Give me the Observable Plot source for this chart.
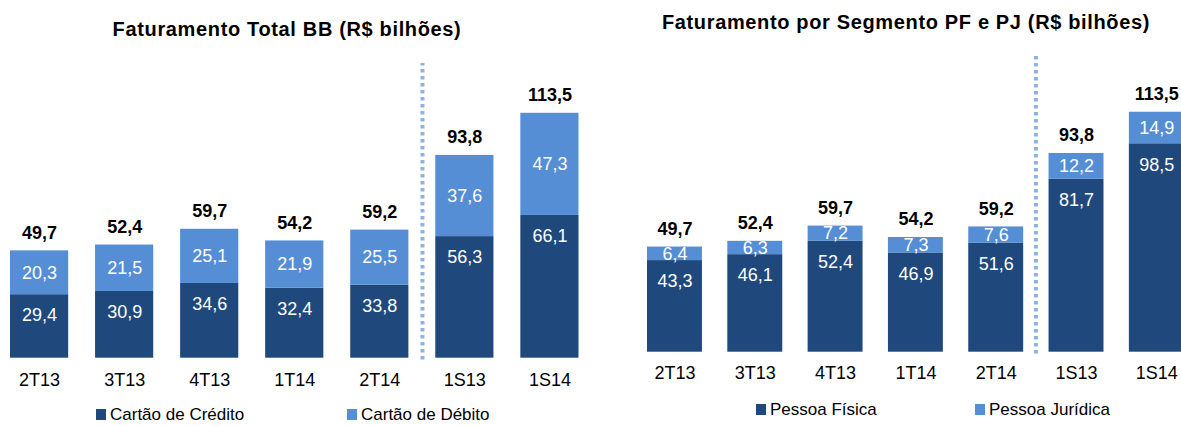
<!DOCTYPE html>
<html><head><meta charset="utf-8">
<script src="https://cdn.jsdelivr.net/npm/d3@7"></script>
<script src="https://cdn.jsdelivr.net/npm/@observablehq/plot@0.6"></script>
<style>
html,body{margin:0;padding:0;background:#fff;}
body{width:1181px;height:426px;overflow:hidden;position:relative;font-family:"Liberation Sans",Arial,sans-serif;color:#000;}
.title{position:absolute;font-weight:bold;font-size:20px;line-height:20px;letter-spacing:0.65px;white-space:nowrap;transform:translateX(-50%);}
.chart{position:absolute;top:40px;width:590px;height:360px;}
.chart svg{max-width:none !important;}
.legend{position:absolute;font-size:17px;line-height:17px;white-space:nowrap;display:flex;align-items:center;}
.legend .sw{display:inline-block;width:10px;height:11px;margin-right:4px;}
</style>
</head><body>
<div class="title" style="left:287px;top:19px;">Faturamento Total BB (R$ bilhões)</div>
<div class="title" style="left:906px;top:12px;">Faturamento por Segmento PF e PJ (R$ bilhões)</div>
<div id="left" class="chart" style="left:0px;"></div>
<div id="right" class="chart" style="left:600px;"></div>
<div class="legend" style="left:96px;top:406px;"><span class="sw" style="background:#1F497D"></span><span>Cartão de Crédito</span></div>
<div class="legend" style="left:347px;top:406px;"><span class="sw" style="background:#558ED5"></span><span>Cartão de Débito</span></div>
<div class="legend" style="left:756px;top:401px;"><span class="sw" style="background:#1F497D"></span><span>Pessoa Física</span></div>
<div class="legend" style="left:975px;top:401px;"><span class="sw" style="background:#558ED5"></span><span>Pessoa Jurídica</span></div>
<script>
const periods = ["2T13","3T13","4T13","1T14","2T14","1S13","1S14"];
const totals = [49.7, 52.4, 59.7, 54.2, 59.2, 93.8, 113.5];
const credito = [29.4, 30.9, 34.6, 32.4, 33.8, 56.3, 66.1];
const debito = [20.3, 21.5, 25.1, 21.9, 25.5, 37.6, 47.3];
const pessoaFisica = [43.3, 46.1, 52.4, 46.9, 51.6, 81.7, 98.5];
const pessoaJuridica = [6.4, 6.3, 7.2, 7.3, 7.6, 12.2, 14.9];

const dark = "#1F497D", light = "#558ED5", dotColor = "#8DB3E2";
const fmt = v => d3.format(".1f")(v).replace(".", ",");

function panel(a, b, o) {
  const rows = periods.map((p, i) => ({p, a: a[i], b: b[i], t: totals[i]}));
  return Plot.plot({
    width: 590, height: 360,
    marginTop: 0, marginBottom: o.marginBottom, marginLeft: o.marginLeft, marginRight: o.marginRight,
    style: {fontFamily: '"Liberation Sans", Arial, sans-serif', fontSize: "18px", color: "#000", background: "transparent", overflow: "visible", maxWidth: "none"},
    x: {domain: periods, paddingInner: o.padding, paddingOuter: 0, round: false, axis: null},
    y: {domain: [0, o.yMax], axis: null},
    marks: [
      Plot.barY(rows, {x: "p", y1: 0, y2: "a", fill: dark}),
      Plot.barY(rows, {x: "p", y1: "a", y2: d => d.a + d.b, fill: light}),
      Plot.ruleX(["1S13"], {dx: o.ruleDx, y1: -0.8, y2: o.dotTop, stroke: dotColor, strokeWidth: 4, strokeDasharray: "3.5,3.5"}),
      Plot.text(rows, {x: "p", y: d => d.a + d.b / 2, text: d => fmt(d.b), fill: "white", fontSize: 18}),
      Plot.text(rows, {x: "p", y: "a", dy: 21, text: d => fmt(d.a), fill: "white", fontSize: 18}),
      Plot.text(rows, {x: "p", y: d => d.a + d.b, dy: -18, text: d => fmt(d.t), fill: "black", fontWeight: "bold", fontSize: 18}),
      Plot.axisX({tickSize: 0, tickPadding: o.tickPadding, label: null, fontSize: 18})
    ]
  });
}

document.getElementById("left").append(panel(credito, debito, {
  marginLeft: 10, marginRight: 11.5, padding: 0.316, marginBottom: 42.3, yMax: 147.1,
  dotTop: 136.4, ruleDx: -42.4, tickPadding: 15
}));
document.getElementById("right").append(panel(pessoaFisica, pessoaJuridica, {
  marginLeft: 47, marginRight: 6.2, padding: 0.316, marginBottom: 48.3, yMax: 147.3,
  dotTop: 140.2, ruleDx: -40.6, tickPadding: 14
}));
</script>
</body></html>
